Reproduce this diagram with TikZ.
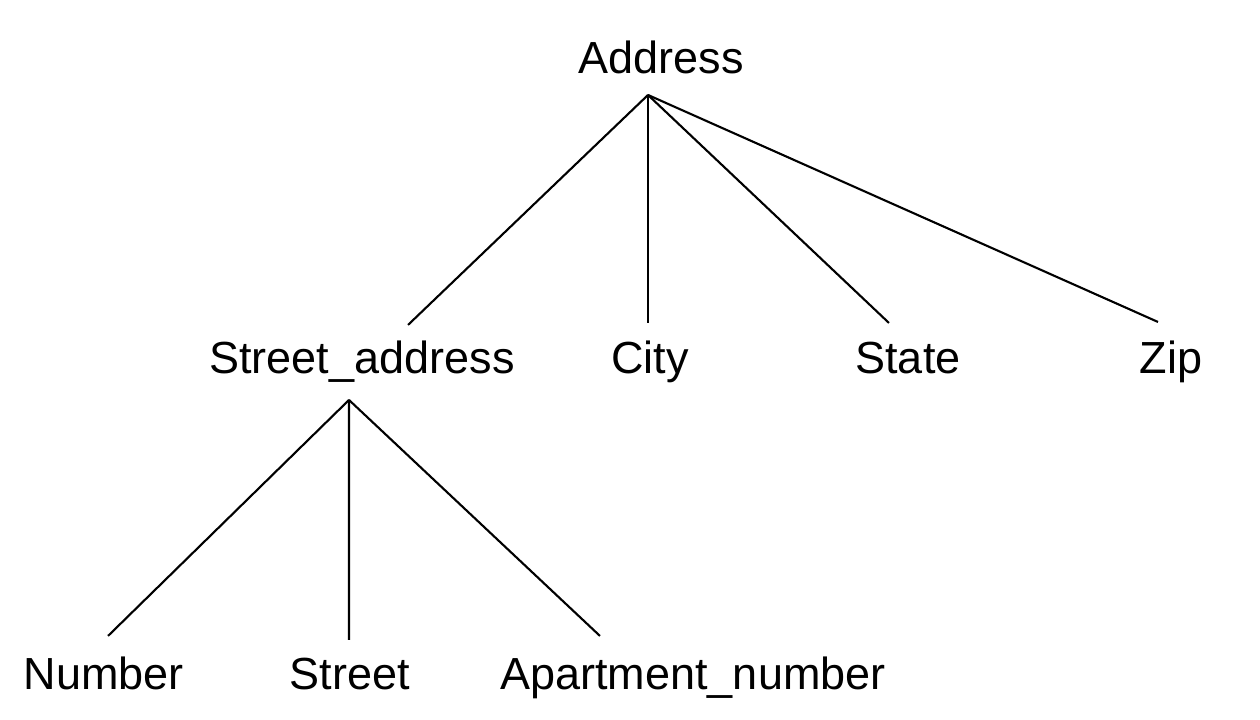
\documentclass[tikz,border=0pt]{standalone}
\usepackage{fontspec}
\setmainfont{Liberation Sans}
\begin{document}
\begin{tikzpicture}[every node/.style={anchor=base,inner sep=0pt,font=\fontsize{12.8}{15}\selectfont},
  line width=0.6pt]
  \useasboundingbox (0,0) rectangle (12.6,7.2);
  \draw
    (6.61,6.46) node (address){Address}
    (3.62,3.46) node (streetaddr){Street\_address}
    (6.50,3.46) node (city){City}
    (9.08,3.46) node (state){State}
    (11.71,3.46) node (zip){Zip}
    (1.04,0.30) node (number){Number}
    (3.50,0.30) node (street){Street}
    (6.93,0.30) node (aptnumber){Apartment\_number};
  \begin{scope}[-]
    \draw ([xshift=-0.13cm,yshift=-0.21cm]address.base) to ([xshift=0.46cm,yshift=0.49cm]streetaddr.base);
    \draw ([xshift=-0.13cm,yshift=-0.21cm]address.base) to ([xshift=-0.02cm,yshift=0.51cm]city.base);
    \draw ([xshift=-0.13cm,yshift=-0.21cm]address.base) to ([xshift=-0.19cm,yshift=0.51cm]state.base);
    \draw ([xshift=-0.13cm,yshift=-0.21cm]address.base) to ([xshift=-0.13cm,yshift=0.52cm]zip.base);
    \draw ([xshift=-0.13cm,yshift=-0.26cm]streetaddr.base) to ([xshift=0.04cm,yshift=0.54cm]number.base);
    \draw ([xshift=-0.13cm,yshift=-0.26cm]streetaddr.base) to ([xshift=-0.01cm,yshift=0.50cm]street.base);
    \draw ([xshift=-0.13cm,yshift=-0.26cm]streetaddr.base) to ([xshift=-0.93cm,yshift=0.54cm]aptnumber.base);
  \end{scope}
\end{tikzpicture}
\end{document}
